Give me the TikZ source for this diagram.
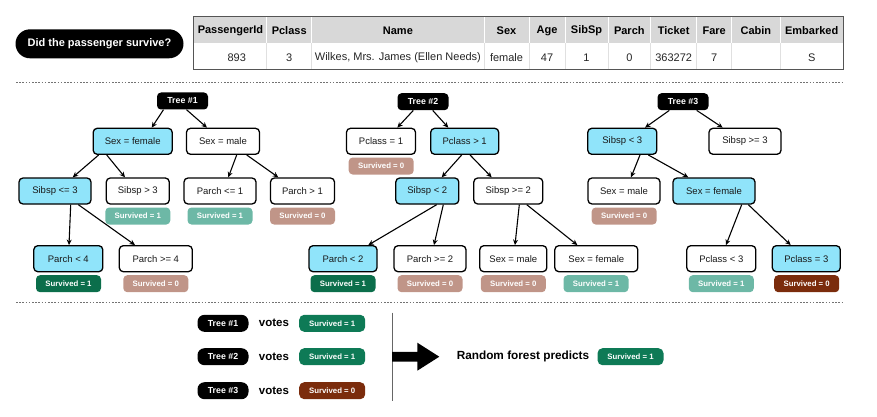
\documentclass[tikz,border=0pt]{standalone}
\usepackage{fontspec}
\setmainfont{Liberation Sans}
\usetikzlibrary{arrows.meta}

\definecolor{hotfill}{HTML}{90E4FA}
\definecolor{yesdark}{HTML}{0B6E4B}
\definecolor{yesvote}{HTML}{0E7A56}
\definecolor{yeslight}{HTML}{6DB8A6}
\definecolor{nolight}{HTML}{C09588}
\definecolor{nodark}{HTML}{7B2C0C}
\definecolor{headgray}{HTML}{D8D8D8}
\definecolor{rulegray}{HTML}{555555}

\newcommand\setfs[1]{\fontsize{#1}{#1}\selectfont}

\tikzset{
  cond/.style={draw=black, line width=1.3pt, rounded corners=4pt, fill=white,
    minimum height=26pt, inner sep=0pt, text=black!90, font=\setfs{9.5}},
  hot/.style={cond, fill=hotfill},
  treetag/.style={fill=black, rounded corners=4pt, minimum width=51pt,
    minimum height=17pt, inner sep=0pt, text=white, font=\bfseries\setfs{8.8}},
  votetag/.style={treetag, rounded corners=7pt},
  outcome/.style={rounded corners=4pt, minimum width=65pt, minimum height=17pt,
    inner sep=0pt, text=white, font=\bfseries\setfs{7.8}},
  arr/.style={-{Stealth[length=5.5pt,width=5pt]}, line width=1.1pt},
  sepline/.style={draw=black!55, line width=0.9pt, dash pattern=on 1.6pt off 1.6pt},
  headtxt/.style={font=\bfseries\setfs{11}, inner sep=0pt},
  celltxt/.style={font=\setfs{11}, inner sep=0pt, text=black!85},
}

\begin{document}
\begin{tikzpicture}[x=1pt,y=-1pt]
\useasboundingbox (0,0) rectangle (877,417);

% ---------- question and passenger record ----------
\node[fill=black, rounded corners=14.5pt, minimum width=168pt, minimum height=29pt,
  inner sep=0pt, text=white, font=\bfseries\setfs{11}] (q) at (99.5,43.8) {Did the passenger survive?};

\fill[headgray] (193.3,16.3) rectangle (843.3,43);
\fill[white] (193.3,43) rectangle (843.3,69.7);
\foreach \xx in {266.7,311.7,484,529,565,608,650.7,696.7,731.7,780}{
  \draw[white, line width=0.8pt] (\xx,16.3) -- (\xx,43);
  \draw[black!12, line width=0.8pt] (\xx,43) -- (\xx,69.7);
}
\draw[rulegray, line width=1.4pt] (193.3,16.3) rectangle (843.3,69.7);

\foreach \xx/\tt [count=\i] in {230.5/PassengerId, 289.2/Pclass, 397.9/Name, 506.5/Sex,
   547/Age, 586.5/SibSp, 629.3/Parch, 673.7/Ticket, 714.2/Fare, 755.9/Cabin, 811.7/Embarked}
  \node[headtxt] (h\i) at (\xx,30.7) {\tt};
\foreach \xx/\tt [count=\i] in {236.7/893, 289.2/3, 397.9/{Wilkes, Mrs. James (Ellen Needs)},
   506.5/female, 547/47, 586.5/1, 629.3/0, 673.7/363272, 714.2/7, 811.7/S}
  \node[celltxt] (d\i) at (\xx,57.3) {\tt};

\draw[sepline] (16,82) -- (843,82);
\draw[sepline] (16,302.7) -- (843,302.7);

% ---------- tree 1 ----------
\node[treetag] (t1) at (182.5,101) {Tree \#1};
\node[hot, minimum width=79pt]  (t1a) at (132.7,141.3) {Sex = female};
\node[cond, minimum width=73pt] (t1b) at (223,141.3) {Sex = male};
\node[hot, minimum width=72pt]  (t1c) at (55,191) {Sibsp <= 3};
\node[cond, minimum width=63pt] (t1d) at (137.8,191) {Sibsp > 3};
\node[cond, minimum width=72pt] (t1e) at (220,191) {Parch <= 1};
\node[cond, minimum width=64pt] (t1f) at (302.5,191) {Parch > 1};
\node[hot, minimum width=69pt]  (t1g) at (68.3,258.7) {Parch < 4};
\node[cond, minimum width=73pt] (t1h) at (155.8,258.7) {Parch >= 4};
\node[outcome, fill=yeslight] (o1d) at (137.8,216) {Survived = 1};
\node[outcome, fill=yeslight] (o1e) at (220,216) {Survived = 1};
\node[outcome, fill=nolight]  (o1f) at (302.5,216) {Survived = 0};
\node[outcome, fill=yesdark]  (o1g) at (68.5,283.7) {Survived = 1};
\node[outcome, fill=nolight]  (o1h) at (155.8,283.7) {Survived = 0};

\draw[arr] ([xshift=-19pt]t1.south) -- ([xshift=19pt]t1a.north);
\draw[arr] ([xshift=4pt]t1.south) -- ([xshift=-16pt]t1b.north);
\draw[arr] ([xshift=-34pt]t1a.south) -- ([xshift=17.7pt]t1c.north);
\draw[arr] ([xshift=-26pt]t1a.south) -- ([xshift=-12.8pt]t1d.north);
\draw[arr] ([xshift=13.7pt]t1b.south) -- ([xshift=8.3pt]t1e.north);
\draw[arr] ([xshift=23.7pt]t1b.south) -- ([xshift=-24.2pt]t1f.north);
\draw[arr] ([xshift=15.7pt]t1c.south) -- ([xshift=0.7pt]t1g.north);
\draw[arr] ([xshift=23.3pt]t1c.south) -- ([xshift=-20.8pt]t1h.north);

% ---------- tree 2 ----------
\node[treetag] (t2) at (423,101.7) {Tree \#2};
\node[cond, minimum width=69pt] (t2a) at (381,141.3) {Pclass = 1};
\node[hot, minimum width=68pt]  (t2b) at (464.7,141.3) {Pclass > 1};
\node[hot, minimum width=63pt]  (t2c) at (427.3,191) {Sibsp < 2};
\node[cond, minimum width=69pt] (t2d) at (508.3,191) {Sibsp >= 2};
\node[hot, minimum width=68pt]  (t2e) at (343,258.7) {Parch < 2};
\node[cond, minimum width=72pt] (t2f) at (430,258.7) {Parch >= 2};
\node[cond, minimum width=67pt] (t2g) at (513.3,258.7) {Sex = male};
\node[cond, minimum width=83pt] (t2h) at (596.3,258.7) {Sex = female};
\node[outcome, fill=nolight]  (o2a) at (381.2,166) {Survived = 0};
\node[outcome, fill=yesdark]  (o2e) at (343,283.7) {Survived = 1};
\node[outcome, fill=nolight]  (o2f) at (430,283.7) {Survived = 0};
\node[outcome, fill=nolight]  (o2g) at (513.3,283.7) {Survived = 0};
\node[outcome, fill=yeslight] (o2h) at (596,283.7) {Survived = 1};

\draw[arr] ([xshift=-9.7pt]t2.south) -- ([xshift=16.3pt]t2a.north);
\draw[arr] ([xshift=9.7pt]t2.south) -- ([xshift=-16.4pt]t2b.north);
\draw[arr] ([xshift=-3pt]t2b.south) -- ([xshift=14.4pt]t2c.north);
\draw[arr] ([xshift=5.3pt]t2b.south) -- ([xshift=-16.6pt]t2d.north);
\draw[arr] ([xshift=9.4pt]t2c.south) -- ([xshift=25.3pt]t2e.north);
\draw[arr] ([xshift=16pt]t2c.south) -- ([xshift=4pt]t2f.north);
\draw[arr] ([xshift=11pt]t2d.south) -- ([xshift=1.7pt]t2g.north);
\draw[arr] ([xshift=18.4pt]t2d.south) -- ([xshift=-19pt]t2h.north);

% ---------- tree 3 ----------
\node[treetag] (t3) at (683,101.7) {Tree \#3};
\node[hot, minimum width=69pt]  (t3a) at (622.3,141.3) {Sibsp < 3};
\node[cond, minimum width=72pt] (t3b) at (745,141.3) {Sibsp >= 3};
\node[cond, minimum width=72pt] (t3c) at (624,191) {Sex = male};
\node[hot, minimum width=82pt]  (t3d) at (714,191) {Sex = female};
\node[cond, minimum width=69pt] (t3e) at (721.3,258.7) {Pclass < 3};
\node[hot, minimum width=68pt]  (t3f) at (806.3,258.7) {Pclass = 3};
\node[outcome, fill=nolight]  (o3c) at (624.2,216) {Survived = 0};
\node[outcome, fill=yeslight] (o3e) at (721.3,283.7) {Survived = 1};
\node[outcome, fill=nodark]   (o3f) at (806.7,283.7) {Survived = 0};

\draw[arr] ([xshift=-13.7pt]t3.south) -- ([xshift=22.7pt]t3a.north);
\draw[arr] ([xshift=13.7pt]t3.south) -- ([xshift=-22.3pt]t3b.north);
\draw[arr] ([xshift=17.7pt]t3a.south) -- ([xshift=7pt]t3c.north);
\draw[arr] ([xshift=26pt]t3a.south) -- ([xshift=-25.7pt]t3d.north);
\draw[arr] ([xshift=27.7pt]t3d.south) -- ([xshift=4.7pt]t3e.north);
\draw[arr] ([xshift=34.3pt]t3d.south) -- ([xshift=-15.6pt]t3f.north);

% ---------- voting ----------
\foreach \yy/\k/\col/\v in {323.3/1/yesvote/1, 356.7/2/yesvote/1, 390.7/3/nodark/0}{
  \node[votetag] (v\k) at (223,\yy) {Tree \#\k};
  \node[font=\bfseries\setfs{11.5}, inner sep=0pt] (w\k) at (274,\yy) {votes};
  \node[outcome, fill=\col, rounded corners=5pt, minimum width=66pt] (r\k) at (332.2,\yy) {Survived = \v};
}
\draw[black!60, line width=1pt] (392,312.7) -- (392,400.7);
\fill[black] (392,351.8) -- (417.3,351.8) -- (417.3,342.7) -- (439.3,356.7)
  -- (417.3,370.7) -- (417.3,361.6) -- (392,361.6) -- cycle;
\node[font=\bfseries\setfs{11.8}, inner sep=0pt] (rf) at (523,356.7) {Random forest predicts};
\node[outcome, fill=yesvote, rounded corners=5pt, minimum width=66pt] (rp) at (630.5,356.7) {Survived = 1};

\end{tikzpicture}
\end{document}
